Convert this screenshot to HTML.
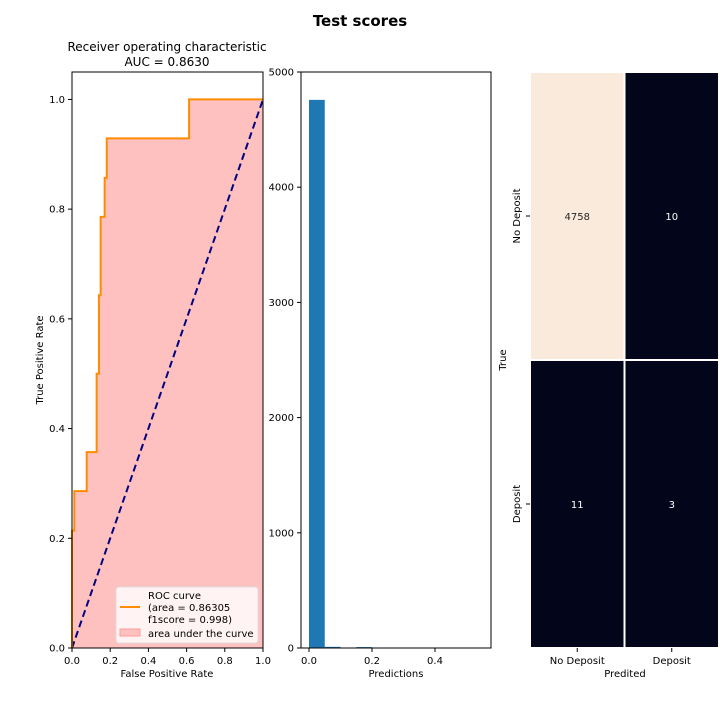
<!DOCTYPE html>
<html><head><meta charset="utf-8"><style>
body{margin:0;background:#fff;}
svg text{font-family:"DejaVu Sans","Liberation Sans",sans-serif;}
</style></head><body>
<svg id="c" width="720" height="720" xmlns="http://www.w3.org/2000/svg">
<text x="360" y="26" text-anchor="middle" font-size="15" font-weight="bold">Test scores</text>
<g id="roc"></g>
<g id="hist"></g>
<g id="cm"></g>
</svg>
<script>
const rocFpr=[0,0,0.012,0.012,0.077,0.077,0.129,0.129,0.141,0.141,0.150,0.150,0.171,0.171,0.182,0.182,0.613,0.613,1.0];
const rocTpr=[0,0.214,0.214,0.286,0.286,0.357,0.357,0.5,0.5,0.643,0.643,0.786,0.786,0.857,0.857,0.929,0.929,1.0,1.0];
const rocTicks=[0,0.2,0.4,0.6,0.8,1.0];
const histBinStarts=[0,0.05,0.1,0.15,0.2,0.25,0.3,0.35,0.4,0.45,0.5];
const histCounts=[4758,10,0,8,0,0,0,0,0,0,0];
const histYTicks=[0,1000,2000,3000,4000,5000];
const histXTicks=[0,0.2,0.4];
const cmLabels=["No Deposit","Deposit"];
const cmValues=[[4758,10],[11,3]];
const NS="http://www.w3.org/2000/svg";
function mk(parent,tag,attrs,text){const e=document.createElementNS(NS,tag);for(const k in attrs)e.setAttribute(k,attrs[k]);if(text!==undefined)e.textContent=text;parent.appendChild(e);return e;}
// ROC
const roc=document.getElementById('roc');
const rx=v=>72+v*191, ry=v=>648-v*(576/1.05);
mk(roc,'text',{x:167,y:51,'text-anchor':'middle','font-size':12},'Receiver operating characteristic');
mk(roc,'text',{x:167,y:66,'text-anchor':'middle','font-size':12},'AUC = 0.8630');
let pts=rocFpr.map((f,i)=>rx(f)+','+ry(rocTpr[i])).join(' ');
let area=mk(roc,'polygon',{points:pts+' '+rx(1)+','+ry(0)+' '+rx(0)+','+ry(0),fill:'#ffc0c0',stroke:'none'});

let diag=mk(roc,'line',{x1:rx(0),y1:ry(0),x2:rx(1),y2:ry(1),stroke:'#000080','stroke-width':2,'stroke-dasharray':'7,4'});

let cur=mk(roc,'polyline',{points:pts,fill:'none',stroke:'#ff8c00','stroke-width':2});

mk(roc,'rect',{x:72,y:72,width:191,height:576,fill:'none',stroke:'#000','stroke-width':1});
rocTicks.forEach(t=>{
 mk(roc,'line',{x1:rx(t),y1:648,x2:rx(t),y2:652,stroke:'#000'});
 let a=mk(roc,'text',{x:rx(t),y:664,'text-anchor':'middle','font-size':10},t.toFixed(1));
 mk(roc,'line',{x1:68,y1:ry(t),x2:72,y2:ry(t),stroke:'#000'});
 let b=mk(roc,'text',{x:65,y:ry(t)+3.5,'text-anchor':'end','font-size':10},t.toFixed(1));
});
mk(roc,'text',{x:167,y:677,'text-anchor':'middle','font-size':10},'False Positive Rate');
mk(roc,'text',{x:0,y:0,'text-anchor':'middle','font-size':10,transform:'translate(43,360) rotate(-90)'},'True Positive Rate');
let lg=mk(roc,'g',{});
mk(lg,'rect',{x:116,y:587,width:142,height:56,fill:'#fff','fill-opacity':0.8,stroke:'#ddd',rx:3});
mk(lg,'line',{x1:120,y1:607,x2:140,y2:607,stroke:'#ff8c00','stroke-width':2});
mk(lg,'text',{x:148,y:599,'font-size':10},'ROC curve');
mk(lg,'text',{x:148,y:611,'font-size':10},'(area = 0.86305');
mk(lg,'text',{x:148,y:623,'font-size':10},'f1score = 0.998)');
mk(lg,'rect',{x:120,y:629,width:20,height:7,fill:'#ffc0c0',stroke:'#ff9a9a'});
mk(lg,'text',{x:148,y:637,'font-size':10},'area under the curve');
// Histogram
const h=document.getElementById('hist');
const hx=v=>309+v*315, hy=v=>648-v*(576/5000);
histBinStarts.forEach((s,i)=>{if(histCounts[i]<=0)return;
 let b=mk(h,'rect',{x:hx(s),y:hy(histCounts[i]),width:hx(s+0.05)-hx(s),height:648-hy(histCounts[i]),fill:'#1f77b4'});
 });
mk(h,'rect',{x:301,y:72,width:190,height:576,fill:'none',stroke:'#000'});
histYTicks.forEach(t=>{mk(h,'line',{x1:297,y1:hy(t),x2:301,y2:hy(t),stroke:'#000'});
 let a=mk(h,'text',{x:294,y:hy(t)+3.5,'text-anchor':'end','font-size':10},t);});
histXTicks.forEach(t=>{mk(h,'line',{x1:hx(t),y1:648,x2:hx(t),y2:652,stroke:'#000'});
 let a=mk(h,'text',{x:hx(t),y:664,'text-anchor':'middle','font-size':10},t.toFixed(1));});
mk(h,'text',{x:396,y:677,'text-anchor':'middle','font-size':10},'Predictions');
// Confusion matrix
const cm=document.getElementById('cm');
const cx0=530,cy0=72,cw=94.5,ch=288;
const maxV=4758;
cmValues.forEach((row,r)=>row.forEach((v,c)=>{
 const hi=v/maxV>0.5;
 let rc=mk(cm,'rect',{x:cx0+c*cw,y:cy0+r*ch,width:cw,height:ch,fill:hi?'#faeadc':'#03051a',stroke:'#fff','stroke-width':2});
 
 let t=mk(cm,'text',{x:cx0+c*cw+cw/2,y:cy0+r*ch+ch/2+4,'text-anchor':'middle','font-size':10,fill:hi?'#262626':'#fff'},v);
 
}));
cmLabels.forEach((l,i)=>{
 mk(cm,'line',{x1:cx0+i*cw+cw/2,y1:648,x2:cx0+i*cw+cw/2,y2:652,stroke:'#000'});
 let a=mk(cm,'text',{x:cx0+i*cw+cw/2,y:664,'text-anchor':'middle','font-size':10},l);
 const yy=cy0+i*ch+ch/2;
 mk(cm,'line',{x1:526,y1:yy,x2:530,y2:yy,stroke:'#000'});
 let b=mk(cm,'text',{x:0,y:0,'text-anchor':'middle','font-size':10,transform:'translate(520,'+yy+') rotate(-90)'},l);
});
mk(cm,'text',{x:625,y:677,'text-anchor':'middle','font-size':10},'Predited');
mk(cm,'text',{x:0,y:0,'text-anchor':'middle','font-size':10,transform:'translate(506,360) rotate(-90)'},'True');
</script>
</body></html>
